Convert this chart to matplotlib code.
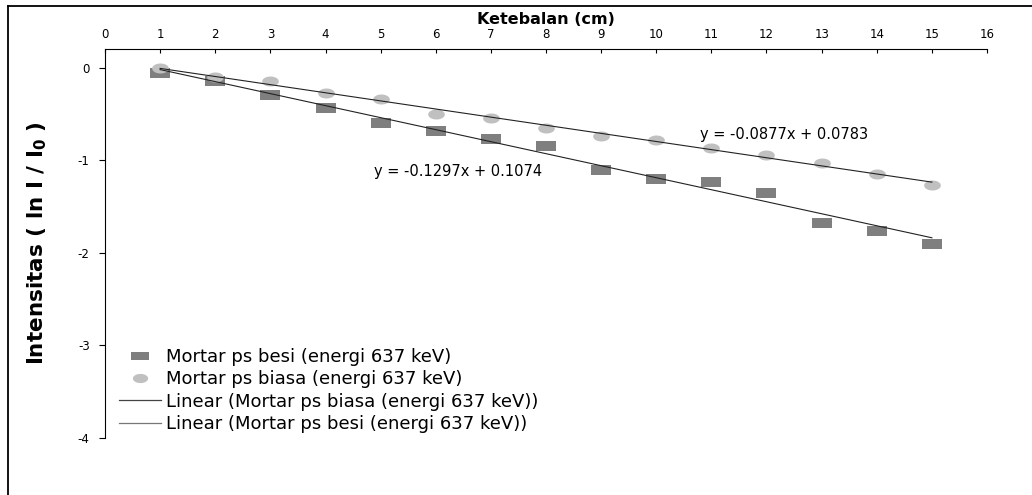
import numpy as np
import matplotlib.pyplot as plt
from matplotlib.path import Path
from matplotlib.lines import Line2D

plt.rcParams['font.family'] = ['DejaVu Sans']
plt.rcParams['axes.unicode_minus'] = False

# data
thickness = [1, 2, 3, 4, 5, 6, 7, 8, 9, 10, 11, 12, 13, 14, 15]
besi = [-0.06, -0.15, -0.30, -0.44, -0.60, -0.68, -0.77, -0.85,
        -1.11, -1.20, -1.24, -1.36, -1.68, -1.76, -1.90]
biasa = [-0.01, -0.10, -0.15, -0.27, -0.34, -0.50, -0.55, -0.65,
         -0.74, -0.78, -0.87, -0.94, -1.03, -1.15, -1.27]

# trendline coefficients as printed on the chart
besi_fit = (-0.1297, 0.1074)
biasa_fit = (-0.0877, 0.0783)

labels = ["Mortar ps besi (energi 637 keV)",
          "Mortar ps biasa (energi 637 keV)",
          "Linear (Mortar ps biasa (energi 637 keV))",
          "Linear (Mortar ps besi (energi 637 keV))"]

W, H = 1032, 495
fig = plt.figure(figsize=(W / 100, H / 100), dpi=100)
ax = fig.add_axes([105 / W, 1 - 438 / H, (987 - 105) / W, (438 - 49) / H])

# wide markers (the original image is stretched horizontally)
rect = Path([(-1, -0.48), (1, -0.48), (1, 0.48), (-1, 0.48), (-1, -0.48)],
            [Path.MOVETO, Path.LINETO, Path.LINETO, Path.LINETO, Path.CLOSEPOLY])
t = np.linspace(0, 2 * np.pi, 40)
ell = Path(np.column_stack([np.cos(t), 0.6 * np.sin(t)]))

ax.plot(thickness, besi, linestyle='none', marker=rect, markersize=15,
        color='#7f7f7f', markeredgewidth=0)
ax.plot(thickness, biasa, linestyle='none', marker=ell, markersize=12,
        color='#c0c0c0', markeredgewidth=0)

xfit = np.array([thickness[0], thickness[-1]])
ax.plot(xfit, biasa_fit[0] * xfit + biasa_fit[1], color='#222222', lw=0.8)
ax.plot(xfit, besi_fit[0] * xfit + besi_fit[1], color='#222222', lw=0.8)

ax.text(10.8, -0.72, f"y = {biasa_fit[0]}x + {biasa_fit[1]}", fontsize=10.5,
        va='center', ha='left')
ax.text(4.88, -1.12, f"y = {besi_fit[0]}x + {besi_fit[1]}", fontsize=10.5,
        va='center', ha='left')

ax.set_xlim(0, 16)
ax.set_ylim(-4, 0.2)
ax.set_xticks(range(0, 17))
ax.set_yticks([0, -1, -2, -3, -4])
ax.xaxis.tick_top()
ax.xaxis.set_label_position('top')
ax.tick_params(axis='x', direction='in', length=3, pad=6, labelsize=8.5)
ax.tick_params(axis='y', direction='out', length=4, pad=7, labelsize=8.5)
for s in ['right', 'bottom']:
    ax.spines[s].set_visible(False)
for s in ['top', 'left']:
    ax.spines[s].set_linewidth(0.8)

ax.set_xlabel("Ketebalan (cm)", fontsize=11.5, fontweight='bold', labelpad=3)
ax.set_ylabel(r"Intensitas ( ln I / I$_\mathbf{0}$ )", fontsize=15.5,
              fontweight='bold', labelpad=21)

handles = [
    Line2D([], [], linestyle='none', marker=rect, markersize=13,
           color='#7f7f7f', markeredgewidth=0),
    Line2D([], [], linestyle='none', marker=ell, markersize=11,
           color='#c0c0c0', markeredgewidth=0),
    Line2D([], [], color='#444444', lw=0.9),
    Line2D([], [], color='#777777', lw=0.9),
]
fig.legend(handles, labels, loc='upper left', bbox_to_anchor=(119 / W, 1 - 348 / H),
           frameon=False, fontsize=13, handlelength=2.3, handletextpad=0.28,
           labelspacing=0.24, borderpad=0, borderaxespad=0)

# chart-area border (only top and left edges show in the crop)
fig.add_artist(Line2D([8 / W, 1], [1 - 6 / H, 1 - 6 / H], color='black', lw=1.3))
fig.add_artist(Line2D([8 / W, 8 / W], [0, 1 - 6 / H], color='black', lw=1.3))

fig.savefig('out.png', dpi=100)
